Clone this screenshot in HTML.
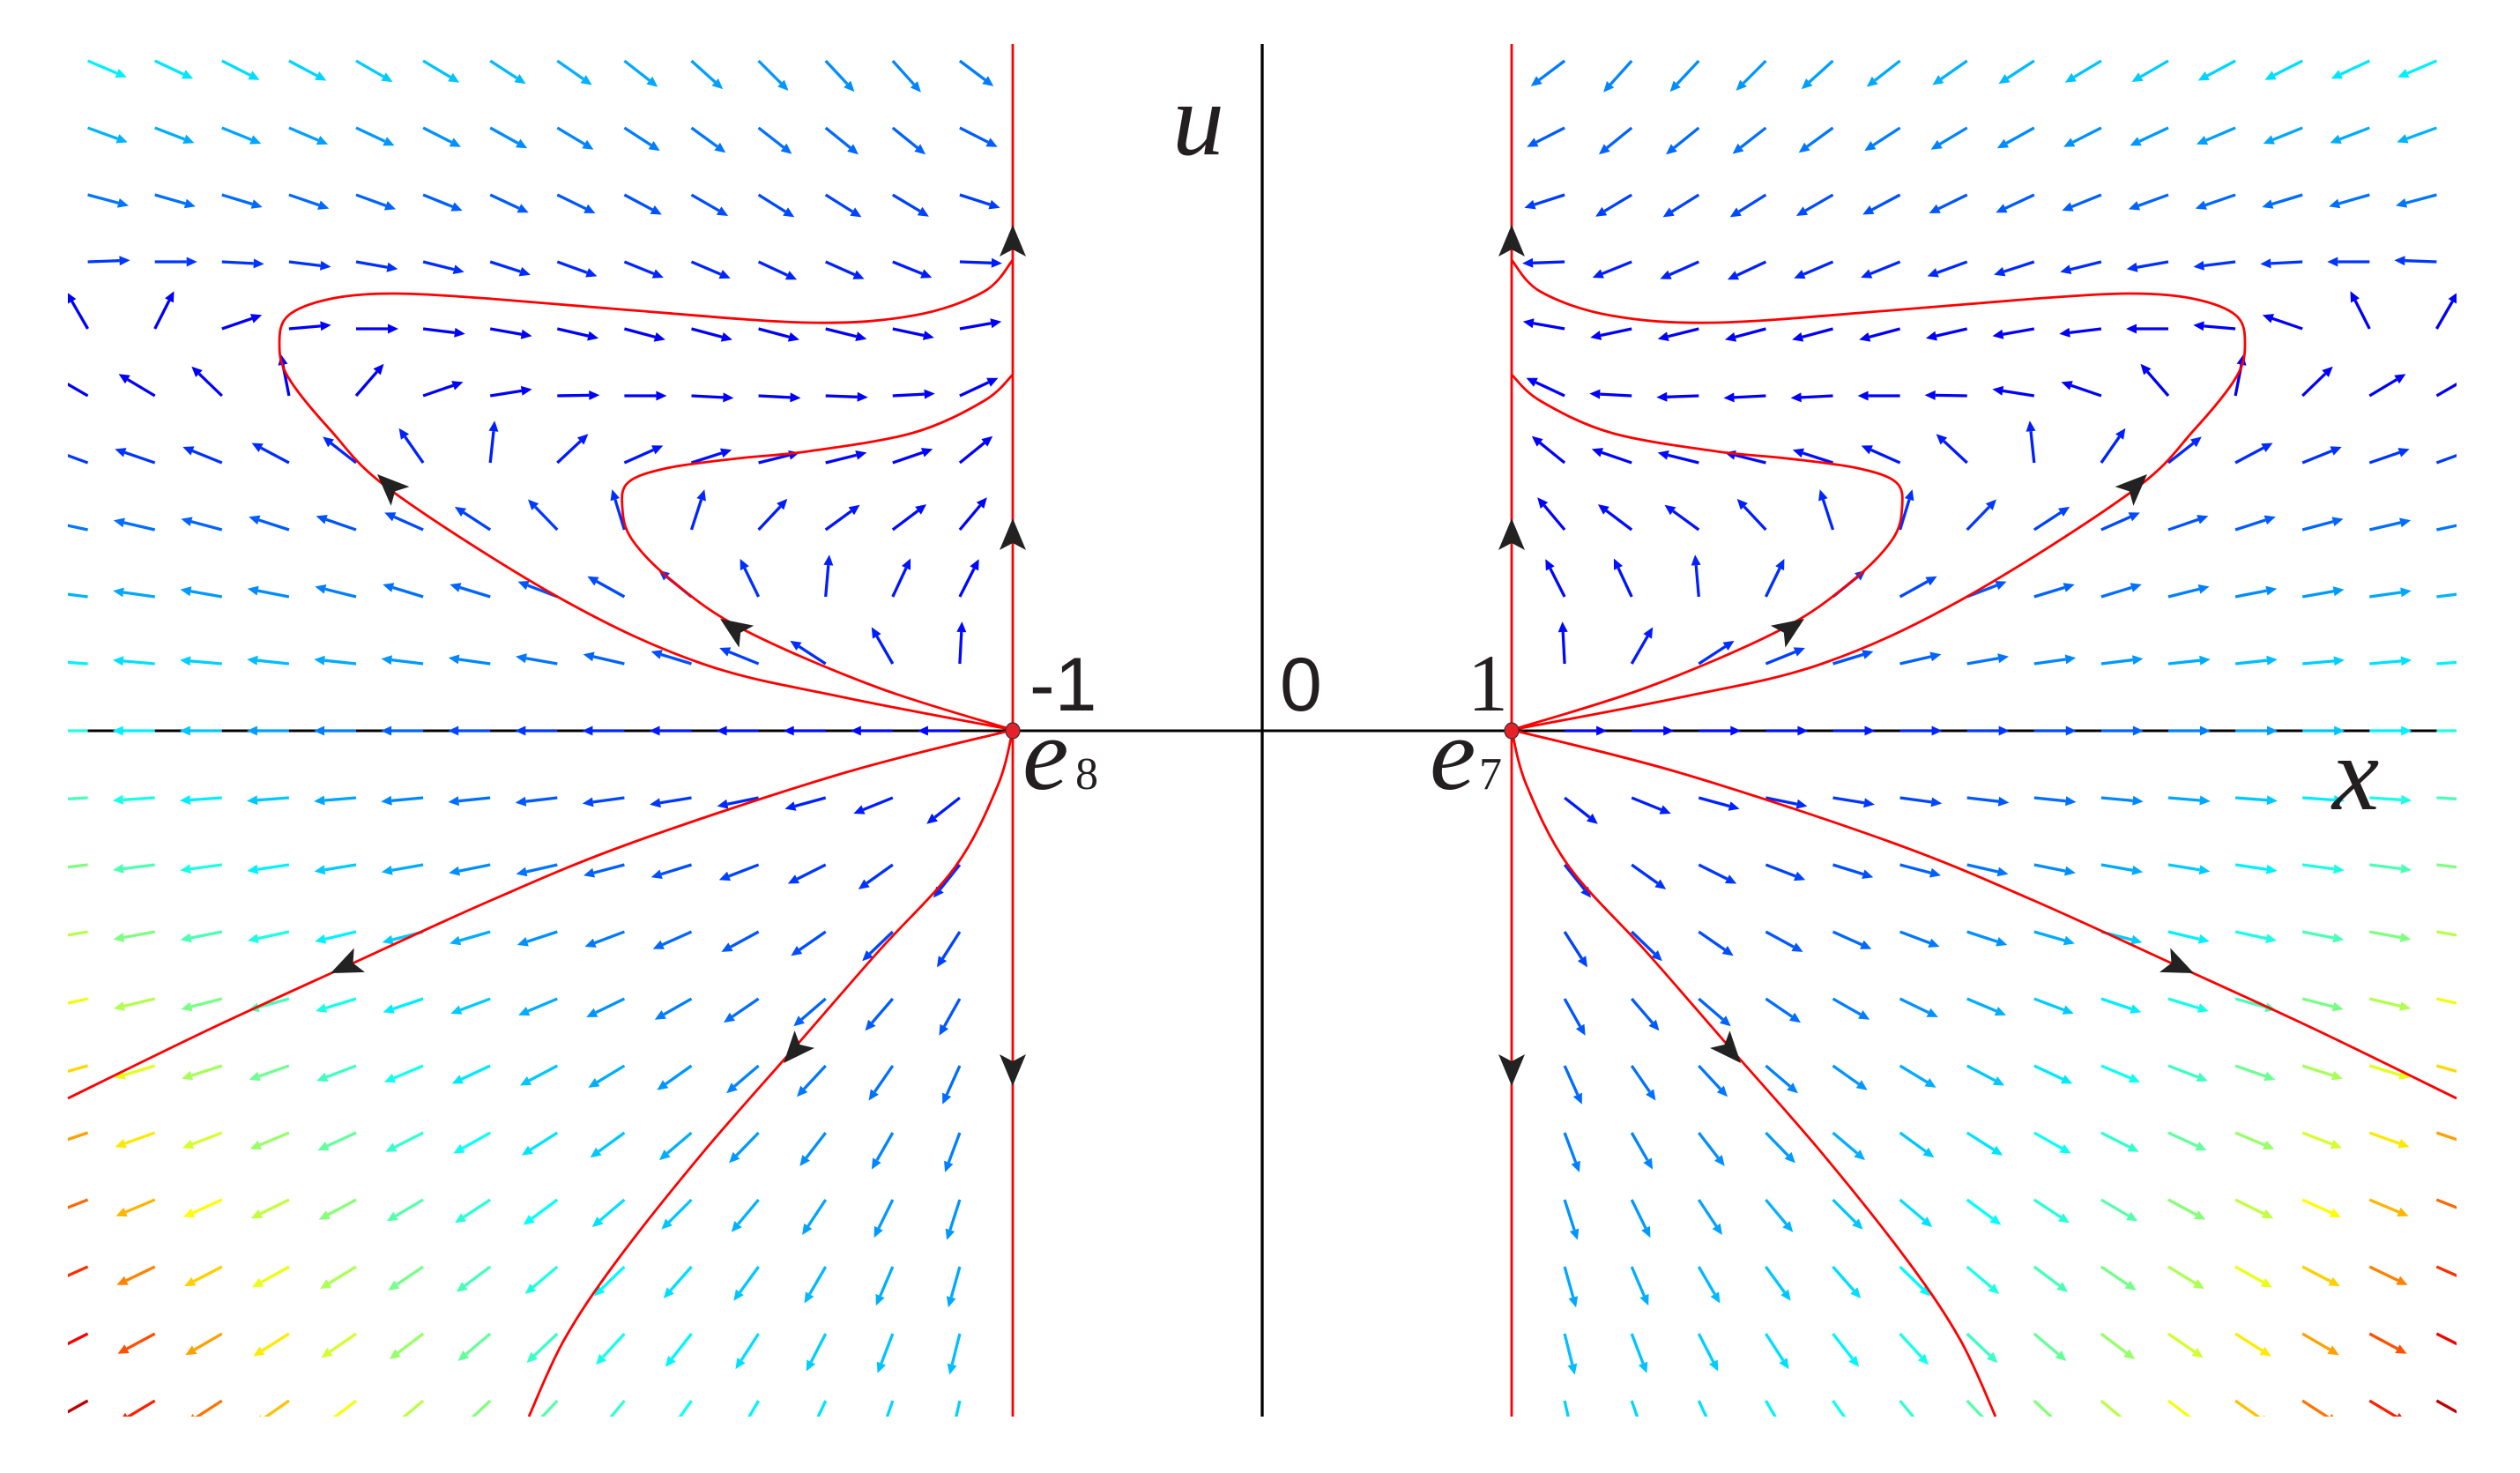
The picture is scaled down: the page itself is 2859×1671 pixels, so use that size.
<!DOCTYPE html>
<html><head><meta charset="utf-8"><style>
html,body{margin:0;padding:0;background:#fff;}
svg{display:block;}
.serif{font-family:"Liberation Serif",serif;}
.sans{font-family:"Liberation Sans",sans-serif;}
</style></head><body>
<svg id="s" xmlns="http://www.w3.org/2000/svg" width="2859" height="1671" viewBox="0 0 2859 1671">
<defs><clipPath id="c"><rect x="77" y="50" width="2710" height="1557"/></clipPath></defs>
<rect width="2859" height="1671" fill="#fff"/>
<line x1="77" y1="829" x2="2787" y2="829" stroke="#000" stroke-width="3"/>
<line x1="1432" y1="50" x2="1432" y2="1607" stroke="#000" stroke-width="3.3"/>
<g id="q" clip-path="url(#c)"></g>
<g id="r" fill="none" stroke="#f00" stroke-width="2.8"></g>
<g id="h" fill="#222"></g>
<ellipse cx="1149" cy="829" rx="8" ry="9" fill="#e8202a" stroke="#333" stroke-width="1.2"/>
<ellipse cx="1715" cy="829" rx="8" ry="9" fill="#e8202a" stroke="#333" stroke-width="1.2"/>
<g fill="#231f20">
<text x="1330" y="175" class="serif" style="font-style:italic;font-size:118px">u</text>
<text x="2646" y="918" class="serif" style="font-style:italic;font-size:120px">x</text>
<text x="1168" y="806" class="sans" style="font-size:86px">-1</text>
<text x="1452" y="806" class="sans" style="font-size:86px">0</text>
<text x="1665" y="806" class="serif" style="font-size:92px">1</text>
<text x="1160" y="895" class="serif" style="font-style:italic;font-size:118px">e</text>
<text x="1220" y="895" class="serif" style="font-size:52px">8</text>
<text x="1622" y="895" class="serif" style="font-style:italic;font-size:118px">e</text>
<text x="1678" y="895" class="serif" style="font-size:52px">7</text>
</g>
</svg>
<script>
(function(){
var q=document.getElementById('q'),r=document.getElementById('r'),h=document.getElementById('h');
function jet(t){t=Math.max(0,Math.min(1,t));function c(v){return Math.round(255*Math.max(0,Math.min(1,v)));}
return 'rgb('+c(1.5-Math.abs(4*t-3))+','+c(1.5-Math.abs(4*t-2))+','+c(1.5-Math.abs(4*t-1))+')';}
var T={1:[176,175,175,174,174,173,172,170,167,163,158,147,120,87],
2:[173,172,170,169,166,163,163,159,151,141,116,85,65,63],
3:[168,167,165,162,161,156,147,134,107,72,47,36,37,50],
4:[160,161,158,152,142,125,84,43,24,18,14,14,19,39],
5:[150,149,136,101,49,19,9,1,0,-3,-3,-2,3,25],
6:[120,63,19,5,0,-7,-10,-13,-15,-15,-15,-14,-12,10],
7:[2,0,-3,-7,-10,-14,-18,-20,-22,-23,-25,-24,-22,-2],
8:[-15,-16,-17,-19,-20,-22,-25,-26,-28,-30,-32,-32,-31,-18],
9:[-20,-21,-22,-23,-25,-27,-29,-31,-33,-36,-38,-39,-39,-27],
10:[-23,-25,-27,-28,-30,-31,-33,-35,-38,-42,-45,-47,-48,-37]};
var html='';
function arrow(x,y,ang,col){var a=ang*Math.PI/180,L=48,dx=Math.cos(a),dy=-Math.sin(a);
var hx=x+dx*L,hy=y+dy*L,bx=hx-dx*12,by=hy-dy*12,px=-dy,py=dx;
html+='<line x1="'+x.toFixed(1)+'" y1="'+y.toFixed(1)+'" x2="'+bx.toFixed(1)+'" y2="'+by.toFixed(1)+'" stroke="'+col+'" stroke-width="3.3"/>';
html+='<polygon points="'+hx.toFixed(1)+','+hy.toFixed(1)+' '+(bx+px*5.5).toFixed(1)+','+(by+py*5.5).toFixed(1)+' '+(bx-px*5.5).toFixed(1)+','+(by-py*5.5).toFixed(1)+'" fill="'+col+'"/>';}
for(var c=0;c<14;c++){var x=99.6+76.1*c,d=(1149-x)/76.1,dn=d/13.8;
for(var k=-10;k<=10;k++){var y=829-76*k,ang,t;
if(k>0){ang=T[k][c];t=0.12+0.022*d*Math.max(0,1-k/5)+0.06*Math.max(0,k-6)*(0.5+0.5*dn);}
else if(k==0){ang=180;t=0.13+0.28*Math.pow(dn,2.5);}
else{var ak=-k;ang=180+Math.atan2(ak,1.2*d+1.3*Math.min(1,ak/4))*180/Math.PI;t=0.13+0.02*ak+Math.pow(dn,2.2)*(0.26+0.035*ak);}
var col=jet(t);arrow(x,y,ang,col);arrow(2864-x,y,180-ang,col);}}
q.innerHTML=html;
function path(p){var s='M'+p[0][0]+','+p[0][1];for(var i=0;i<p.length-1;i++){var p0=p[Math.max(0,i-1)],p1=p[i],p2=p[i+1],p3=p[Math.min(p.length-1,i+2)];
s+=' C'+(p1[0]+(p2[0]-p0[0])/6).toFixed(1)+','+(p1[1]+(p2[1]-p0[1])/6).toFixed(1)+' '+(p2[0]-(p3[0]-p1[0])/6).toFixed(1)+','+(p2[1]-(p3[1]-p1[1])/6).toFixed(1)+' '+p2[0]+','+p2[1];}return s;}
function mir(p){return p.map(function(a){return [2864-a[0],a[1]];});}
var curves=[
[[1149,828],[957,791],[797,753],[638,680],[446,558],[375,488],[327,428],[317,390],[327,358],[375,339],[446,333],[558,339],[717,352],[917,366],[1036,358],[1116,331],[1149,295]],
[[1149,828],[996,780],[845,715],[765,661],[717,612],[706,575],[713,547],[757,531],[837,520],[917,512],[1036,491],[1116,455],[1149,425]],
[[1149,828],[957,877],[717,956],[558,1021],[391,1097],[239,1167],[77,1246]],
[[1149,828],[1132,891],[1084,983],[996,1080],[901,1189],[797,1308],[700,1430],[640,1520],[600,1607]]];
var rs='<line x1="1149" y1="50" x2="1149" y2="1607"/><line x1="1715" y1="50" x2="1715" y2="1607"/>';
curves.forEach(function(p){rs+='<path d="'+path(p)+'"/><path d="'+path(mir(p))+'"/>';});
r.innerHTML=rs;
var hs='';
function head(tx,ty,dx,dy){var n=Math.hypot(dx,dy);dx/=n;dy/=n;var px=-dy,py=dx,L=36,W=15;
var bx=tx-dx*L,by=ty-dy*L,nx=tx-dx*(L-8),ny=ty-dy*(L-8);
hs+='<polygon points="'+tx+','+ty+' '+(bx+px*W).toFixed(1)+','+(by+py*W).toFixed(1)+' '+nx.toFixed(1)+','+ny.toFixed(1)+' '+(bx-px*W).toFixed(1)+','+(by-py*W).toFixed(1)+'"/>';}
var H=[[1149,255,0,-1],[1149,588,0,-1],[1149,1232,0,1],[428,538,-0.72,-0.69],[817,702,-0.83,-0.56],[375,1104,-0.91,0.41],[889,1206,-0.66,0.75]];
H.forEach(function(a){head(a[0],a[1],a[2],a[3]);head(2864-a[0],a[1],-a[2],a[3]);});
h.innerHTML=hs;
})();
</script>
</body></html>
